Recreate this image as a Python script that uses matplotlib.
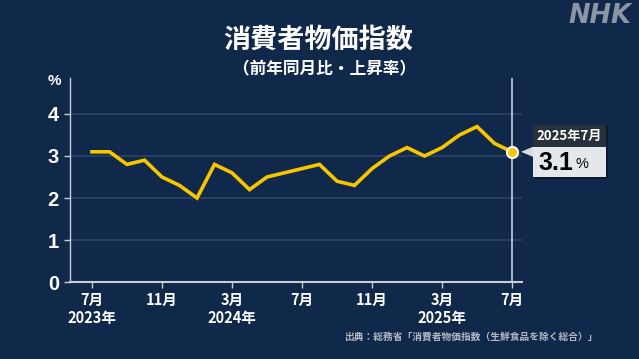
import matplotlib
matplotlib.use("Agg")
import matplotlib.pyplot as plt
from matplotlib.patches import Rectangle, Polygon

plt.rcParams['font.family'] = ['Noto Sans CJK JP', 'DejaVu Sans']

# monthly CPI (core), Jul 2023 - Jul 2025
cpi = [3.1, 3.1, 2.8, 2.9, 2.5, 2.3, 2.0, 2.8, 2.6, 2.2, 2.5, 2.6, 2.7,
       2.8, 2.4, 2.3, 2.7, 3.0, 3.2, 3.0, 3.2, 3.5, 3.7, 3.3, 3.1]
tick_idx = [0, 4, 8, 12, 16, 20, 24]
tick_lbl = ['7月\n2023年', '11月', '3月\n2024年', '7月', '11月', '3月\n2025年', '7月']
y_ticks = [0, 1, 2, 3, 4]

bg = '#10284a'
yellow = '#f7c600'
axc = '#c9ced6'

fig = plt.figure(figsize=(6.39, 3.59), dpi=100, facecolor=bg)
ax = fig.add_axes([70/639, 1-282/359, 452/639, 204/359])
ax.set_facecolor(bg)

x = list(range(len(cpi)))
ax.set_xlim(-22/17.5, 24 + 10/17.5)
ax.set_ylim(0, 204/42)

for v in y_ticks[1:]:
    ax.axhline(v, color='#2c4466', lw=1.2, zorder=1)
ax.axvline(24, color=axc, lw=1.2, zorder=2)
ax.plot(x, cpi, color=yellow, lw=2.6, zorder=3, solid_joinstyle='miter')
ax.plot([24], [cpi[-1]], 'o', ms=8, mfc=yellow, mec='white', mew=1.5, zorder=4)

for s in ['top', 'right']:
    ax.spines[s].set_visible(False)
ax.spines['left'].set_color(axc)
ax.spines['bottom'].set_color(axc)
ax.spines['bottom'].set_linewidth(1.5)
ax.spines['left'].set_linewidth(1.0)

ax.set_yticks(y_ticks)
ax.set_yticklabels([str(v) for v in y_ticks], color='white', fontsize=14.5,
                   fontweight='bold', family=['Liberation Sans'])
ax.set_xticks(tick_idx)
ax.set_xticklabels(tick_lbl, color='white', fontsize=10.5, fontweight='bold',
                   linespacing=1.15)
ax.tick_params(axis='both', colors=axc, length=4, width=1)
ax.tick_params(axis='y', pad=4, labelcolor='white')
ax.tick_params(axis='x', pad=3, labelcolor='white')

fig.text(54/639, 1-81/359, '%', color='white', fontsize=11, fontweight='bold',
         ha='center', va='center', family=['Liberation Sans'])
fig.text(318/639, 1-40/359, '消費者物価指数', color='white', fontsize=19.5,
         fontweight='bold', ha='center', va='center')
fig.text(324/639, 1-69/359, '（前年同月比・上昇率）', color='white', fontsize=12,
         fontweight='bold', ha='center', va='center')
fig.text(631/639, 1-16/359, 'NHK', color='#8a95a5', fontsize=18.5, fontweight='bold',
         style='italic', ha='right', va='center', family=['DejaVu Sans'])
fig.text(598/639, 1-337/359, '出典：総務省「消費者物価指数（生鮮食品を除く総合）」',
         color='#b2bac6', fontsize=7, fontweight='bold', ha='right', va='center')

# callout box for latest value
fig.canvas.draw()
px, py = ax.transData.transform((24, cpi[-1]))
tri = Polygon([(px + 9, py), (px + 21, py + 5), (px + 21, py - 5)], closed=True,
              facecolor='#d9dde3', edgecolor='none', transform=None, zorder=5)
shadow = Rectangle((px + 23, py - 27), 73, 54, facecolor='#0a1a30',
                   edgecolor='none', transform=None, zorder=5)
head = Rectangle((px + 21, py + 5), 73, 22, facecolor='#27313b',
                 edgecolor='none', transform=None, zorder=6)
body = Rectangle((px + 21, py - 25), 73, 30, facecolor='#e5e8eb',
                 edgecolor='none', transform=None, zorder=6)
for p in [tri, shadow, head, body]:
    fig.add_artist(p)
fig.text((px + 57.5)/639, (py + 16)/359, '2025年7月', color='white', fontsize=9.5,
         fontweight='bold', ha='center', va='center', zorder=7)
fig.text((px + 26)/639, (py - 11)/359, '3.1', color='black', fontsize=18,
         fontweight='bold', ha='left', va='center', zorder=7,
         family=['Liberation Sans'])
fig.text((px + 63)/639, (py - 12)/359, '%', color='black', fontsize=10.5,
         ha='left', va='center', zorder=7, family=['Liberation Sans'])

fig.savefig('out.png', dpi=100, facecolor=bg)
